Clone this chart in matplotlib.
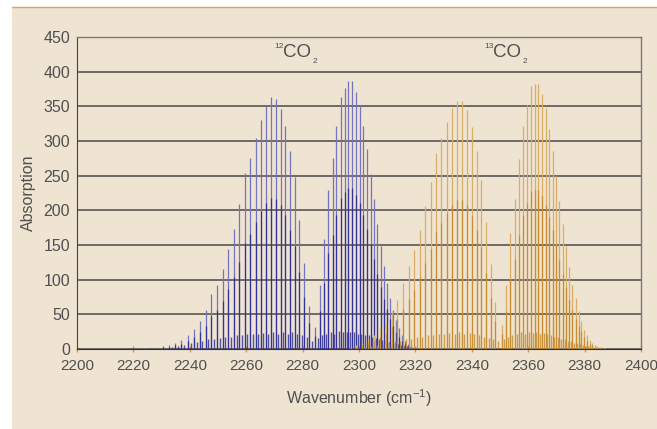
import numpy as np
import matplotlib
matplotlib.use("Agg")
import matplotlib.pyplot as plt
from matplotlib.patches import Rectangle
from matplotlib.lines import Line2D

# ---------------- data ----------------
# 12CO2 P branch
p12_pos = [2221.8, 2224.0, 2226.1, 2228.3, 2230.6, 2232.7, 2234.9, 2237.0, 2239.2, 2241.4,
           2243.5, 2245.6, 2247.6, 2249.5, 2251.7, 2253.6, 2255.6, 2257.6, 2259.5, 2261.4,
           2263.3, 2265.1, 2267.0, 2268.9, 2270.4, 2272.2, 2273.9, 2275.6, 2277.3, 2278.9,
           2280.6, 2282.3]
p12_h = [0.5, 1, 1.5, 2, 4, 6, 9, 13, 20, 29,
         41, 56, 79, 93, 115, 144, 173, 209, 254, 276,
         305, 331, 351, 363, 360, 346, 322, 286, 248, 186,
         124, 62]
# 12CO2 R branch
r12_pos = [2284.4, 2286.2, 2287.7, 2289.1, 2290.7, 2292.0, 2293.6, 2294.9, 2296.2, 2297.6,
           2298.9, 2300.2, 2301.5, 2302.8, 2304.1, 2305.3, 2306.5, 2307.7, 2308.9, 2309.9,
           2311.0, 2312.1, 2313.1, 2314.2, 2315.3, 2316.4, 2317.5, 2318.6, 2319.7]
r12_h = [32, 92, 158, 230, 275, 321, 363, 377, 386, 386,
         371, 352, 321, 289, 252, 217, 181, 149, 120, 95,
         73, 56, 42, 30, 20, 12, 7, 4, 2]
# 12CO2 weak (hot band) lines forming the low hump
hot12_pos = [2233.8, 2235.9, 2238.1, 2240.3, 2242.4, 2244.5, 2246.6, 2248.5, 2250.6, 2252.6,
             2254.6, 2256.6, 2258.5, 2260.4, 2262.3, 2264.2, 2266.0, 2267.9, 2269.6, 2271.3,
             2273.0, 2274.7, 2276.4, 2278.1, 2279.8, 2281.5, 2283.4, 2285.3, 2286.9, 2288.4,
             2289.9, 2291.3, 2292.8, 2294.2, 2295.6, 2296.9, 2298.2, 2299.5, 2300.8, 2302.1,
             2303.4, 2304.7, 2305.9, 2307.1, 2308.3, 2309.4, 2310.5, 2311.6, 2312.6, 2313.7,
             2314.8, 2315.9, 2317.0, 2318.1, 2319.2, 2320.5]
hot12_h = [3, 4, 6, 8, 10, 12, 14, 15, 16, 18,
           18, 20, 20, 21, 22, 22, 23, 22, 24, 22,
           24, 22, 24, 22, 20, 18, 12, 16, 20, 22,
           24, 22, 26, 24, 25, 24, 25, 22, 22, 20,
           20, 18, 16, 15, 13, 12, 10, 9, 8, 7,
           6, 5, 4, 3, 2, 1]

# 13CO2 P branch
p13_pos = [2297.0, 2299.1, 2301.2, 2303.3, 2305.4, 2307.4, 2309.6, 2311.6, 2313.6, 2315.7,
           2317.7, 2319.6, 2321.6, 2323.5, 2325.4, 2327.3, 2329.2, 2331.1, 2333.0, 2334.8,
           2336.5, 2338.3, 2340.1, 2341.7, 2343.4, 2345.1, 2346.9, 2348.3]
p13_h = [3, 6, 9, 14, 20, 30, 37, 52, 71, 95,
         120, 143, 172, 206, 241, 282, 304, 328, 347, 357,
         358, 345, 320, 285, 244, 183, 123, 68]
# 13CO2 R branch
r13_pos = [2350.6, 2352.1, 2353.7, 2355.2, 2356.6, 2358.0, 2359.5, 2360.9, 2362.3, 2363.6,
           2364.9, 2366.2, 2367.5, 2368.7, 2369.9, 2371.0, 2372.3, 2373.5, 2374.6, 2375.6,
           2376.8, 2377.9, 2378.9, 2379.9, 2380.9, 2381.8, 2382.7, 2383.6, 2384.5, 2385.4,
           2386.4, 2387.4]
r13_h = [35, 92, 168, 217, 274, 321, 352, 379, 382, 382,
         368, 347, 317, 285, 250, 213, 180, 148, 118, 93,
         73, 55, 41, 28, 20, 13, 9, 6, 4, 3,
         2, 1]
hot13_pos = [2299.8, 2302.0, 2304.2, 2306.4, 2308.5, 2310.6, 2312.6, 2314.7, 2316.7, 2318.6,
             2320.6, 2322.5, 2324.4, 2326.3, 2328.2, 2330.1, 2332.0, 2333.9, 2335.6, 2337.4,
             2339.2, 2340.9, 2342.5, 2344.2, 2346.0, 2347.6, 2349.4, 2351.3, 2352.9, 2354.4,
             2355.9, 2357.3, 2358.7, 2360.2, 2361.6, 2362.9, 2364.2, 2365.5, 2366.8, 2368.1,
             2369.3, 2370.4, 2371.6, 2372.9, 2374.0, 2375.1, 2376.2, 2377.3, 2378.4, 2379.4,
             2380.4, 2381.3, 2382.2, 2383.1, 2384.0, 2385.0]
hot13_h = [2, 3, 4, 6, 7, 9, 11, 12, 14, 15,
           17, 18, 20, 20, 22, 21, 23, 22, 24, 22,
           23, 21, 20, 18, 16, 14, 12, 15, 18, 20,
           22, 24, 22, 25, 23, 24, 22, 23, 21, 20,
           18, 17, 15, 14, 12, 11, 9, 8, 7, 6,
           5, 4, 3, 2, 2, 1]

x_ticks = [2200, 2220, 2240, 2260, 2280, 2300, 2320, 2340, 2360, 2380, 2400]
y_ticks = [0, 50, 100, 150, 200, 250, 300, 350, 400, 450]

# ---------------- style ----------------
BG = "#efe3d1"
BLUE_D = "#2a2d92"
BLUE_L = "#7375bf"
ORNG_D = "#c48a2c"
ORNG_L = "#d8ad66"
TXT = "#505050"
plt.rcParams["font.family"] = ["Liberation Sans", "DejaVu Sans"]
plt.rcParams["mathtext.fontset"] = "custom"
plt.rcParams["mathtext.rm"] = "Liberation Sans"
plt.rcParams["mathtext.it"] = "Liberation Sans"

W, H = 657, 429
fig = plt.figure(figsize=(W / 100, H / 100), dpi=100)
fig.patch.set_facecolor("white")
fig.patches.append(Rectangle((12 / W, 0), 1 - 12 / W, (H - 7) / H, transform=fig.transFigure,
                             facecolor=BG, edgecolor="none", zorder=-10))
fig.lines.append(Line2D([12 / W, 1], [(H - 7) / H, (H - 7) / H], transform=fig.transFigure,
                        color="#d9a860", lw=1.0, zorder=-9))

ax = fig.add_axes([77 / W, 1 - 349 / H, (641 - 77) / W, (349 - 37) / H])
ax.set_facecolor(BG)
ax.set_xlim(2200, 2400)
ax.set_ylim(0, 450)
ax.set_yticks(y_ticks)
ax.set_xticks(x_ticks)
ax.grid(axis="y", color="#4a4a4a", lw=1.1, zorder=1)
ax.set_axisbelow(True)


def draw_band(pos_list, h_list, light, dark, z):
    pos = np.asarray(pos_list)
    h = np.asarray(h_list, dtype=float)
    ax.vlines(pos, 0, h, color=light, lw=0.9, zorder=z)
    ax.vlines(pos, 0, h * 0.6, color=dark, lw=0.9, alpha=0.9, zorder=z + 0.1)


def draw_hot(pos_list, h_list, dark, z):
    ax.vlines(pos_list, 0, h_list, color=dark, lw=1.0, alpha=0.8, zorder=z)


draw_hot(hot12_pos, hot12_h, BLUE_D, 3)
draw_band(p12_pos, p12_h, BLUE_L, BLUE_D, 3)
draw_band(r12_pos, r12_h, BLUE_L, BLUE_D, 3)
draw_hot(hot13_pos, hot13_h, ORNG_D, 4)
draw_band(p13_pos, p13_h, ORNG_L, ORNG_D, 4)
draw_band(r13_pos, r13_h, ORNG_L, ORNG_D, 4)

for s in ["top", "right"]:
    ax.spines[s].set_color("#7a7a7a")
    ax.spines[s].set_linewidth(1.0)
ax.spines["left"].set_color("#444444")
ax.spines["bottom"].set_color("#333333")
ax.tick_params(axis="y", length=0, pad=5, labelsize=11.5, labelcolor=TXT)
ax.tick_params(axis="x", length=5, direction="inout", color="#d19a45", width=1.0,
               pad=5, labelsize=11, labelcolor=TXT)

ax.set_ylabel("Absorption", fontsize=11.5, color=TXT, labelpad=5)
ax.set_xlabel("Wavenumber (cm$^{-1}$)", fontsize=11.5, color=TXT, labelpad=10)

# isotopologue labels: small superscript mass number, CO, small subscript 2
for x_co, x_sup, x_sub, mass in [(2278.0, 2273.2, 2283.6, "12"), (2352.5, 2347.8, 2358.0, "13")]:
    ax.text(x_co, 428, "CO", fontsize=13.5, color=TXT, ha="center", va="center")
    ax.text(x_sup, 437, mass, fontsize=6, color=TXT, ha="right", va="center")
    ax.text(x_sub, 414, "2", fontsize=6, color=TXT, ha="left", va="center")

fig.savefig("out.png", dpi=100, facecolor=fig.get_facecolor())
